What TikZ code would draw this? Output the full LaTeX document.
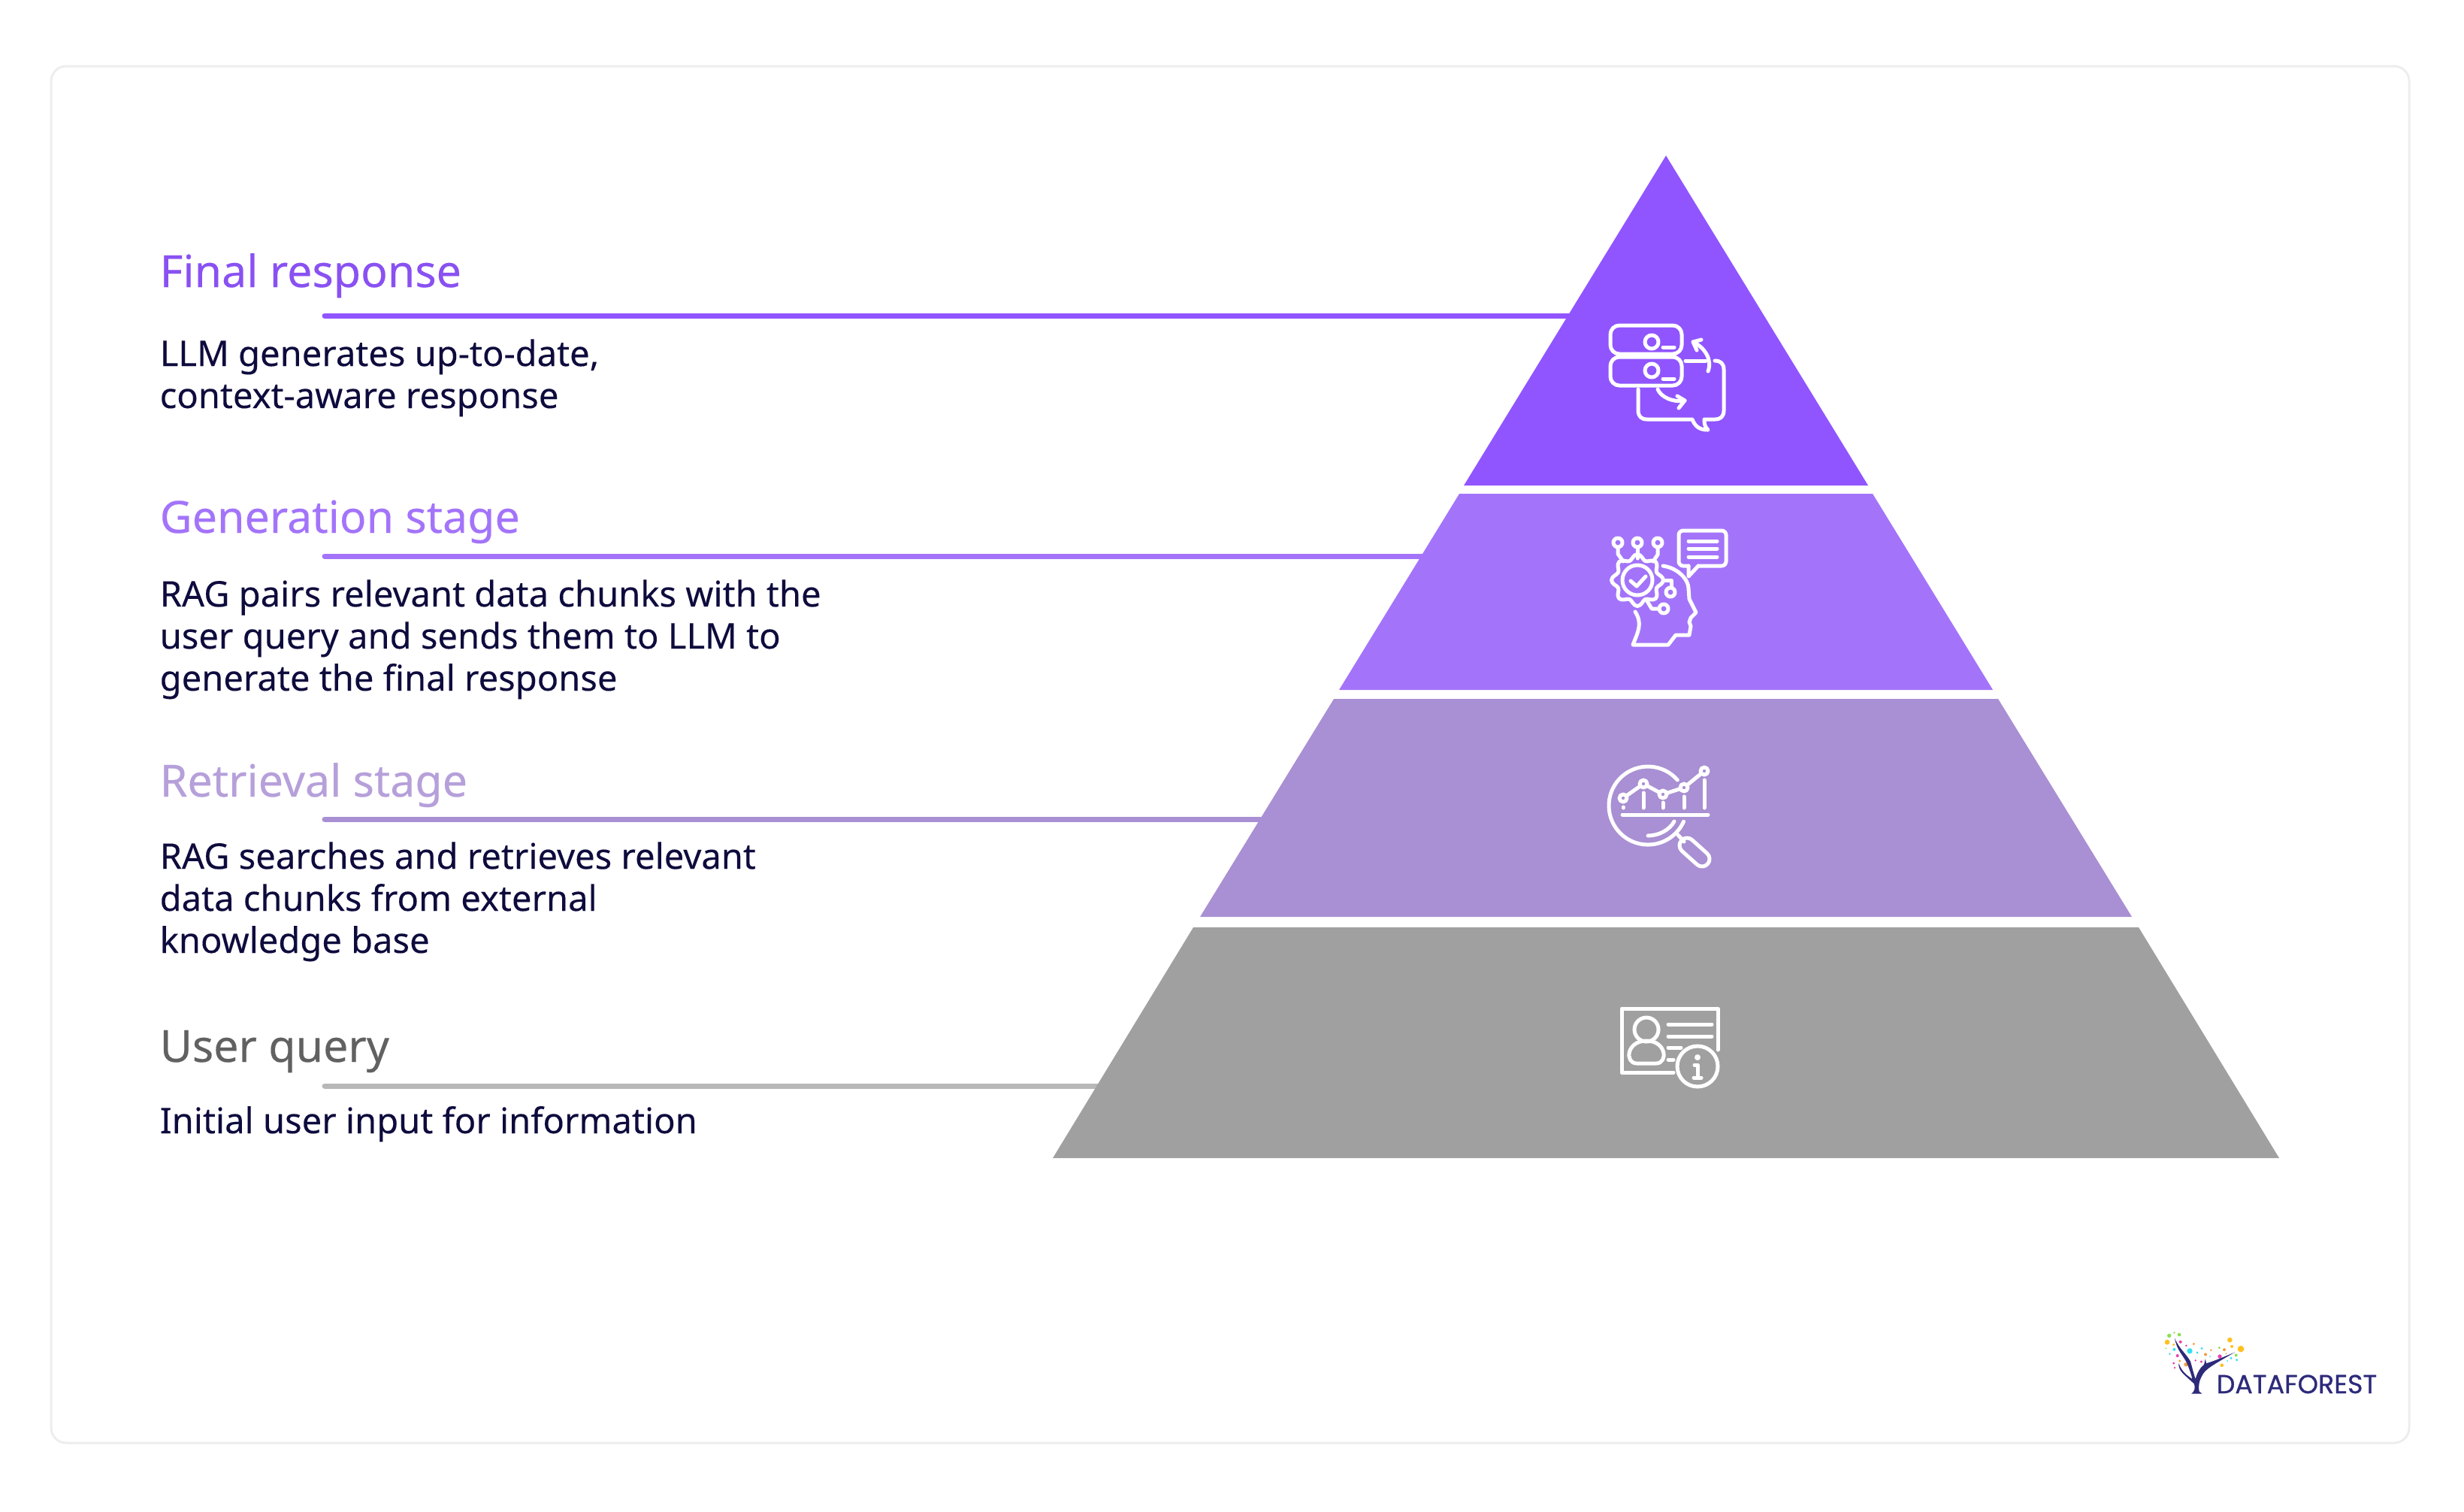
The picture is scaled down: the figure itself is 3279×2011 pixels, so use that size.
\documentclass[tikz,border=0pt]{standalone}
\usepackage{fontspec}
\setmainfont{Noto Sans}
\newfontfamily\logofont[FakeBold=0.7]{Poppins}
\usetikzlibrary{arrows.meta,positioning}
\definecolor{dfviolet}{HTML}{9055FF}
\definecolor{dflilac}{HTML}{A374FA}
\definecolor{dfmauve}{HTML}{A98FD3}
\definecolor{dfgrey}{HTML}{A0A0A0}
\definecolor{dfink}{HTML}{0E0B3D}
\definecolor{dfnavy}{HTML}{2D2A7A}
\definecolor{dfgreen}{HTML}{8BE04E}
\definecolor{dfamber}{HTML}{FFC020}
\definecolor{dforange}{HTML}{F59A3C}
\definecolor{dfpink}{HTML}{E83FB0}
\definecolor{dfcyan}{HTML}{35E0F0}
\tikzset{
  ttl/.style={anchor=base west,inner sep=0pt,font=\fontsize{16.8}{18}\selectfont\addfontfeature{FakeBold=0.25}},
  bdy/.style={anchor=base west,inner sep=0pt,align=left,text=dfink,
              font=\fontsize{13.4}{15.9}\selectfont\addfontfeature{FakeBold=0.15}},
  lead/.style={line width=0.07cm,line cap=round},
  ico/.style={draw=white,line width=0.05cm,line cap=round,line join=round},
  icof/.style={fill=white,draw=none},
  card/.style={draw=black!7,line width=0.03cm,rounded corners=0.2cm},
}
\begin{document}
\begin{tikzpicture}[x=0.01cm,y=-0.01cm]
\useasboundingbox (0,0) rectangle (3279,2011);
  \draw[card] (68,88) rectangle (3206,1920);
  % leader lines
  \coordinate (fstart) at (432,420);
  \coordinate (fend) at (2090,420);
  \coordinate (gstart) at (432,740);
  \coordinate (gend) at (1895,740);
  \coordinate (rstart) at (432,1090);
  \coordinate (rend) at (1680,1090);
  \coordinate (ustart) at (432,1445);
  \coordinate (uend) at (1462,1445);
  \draw[lead,dfviolet] (fstart) -- (fend);
  \draw[lead,dflilac] (gstart) -- (gend);
  \draw[lead,dfmauve] (rstart) -- (rend);
  \draw[lead,black!28] (ustart) -- (uend);
  % pyramid
  \fill[dfviolet] (2217,207) -- (2486,646) -- (1948,646) -- cycle;
  \fill[dflilac] (1942,657) -- (2492,657) -- (2652,918) -- (1782,918) -- cycle;
  \fill[dfmauve] (1775,930) -- (2659,930) -- (2837,1220) -- (1597,1220) -- cycle;
  \fill[dfgrey] (1588,1234) -- (2846,1234) -- (3033,1541) -- (1401,1541) -- cycle;
  % texts
  \node[ttl,text=dfviolet!95!black] (ftitle) at (212,382) {Final response};
  \node[bdy] (fbody) at (212,543) {LLM generates up-to-date,\\context-aware response};
  \node[ttl,text=dflilac] (gtitle) at (212,709) {Generation stage};
  \node[bdy] (gbody) at (212,919) {RAG pairs relevant data chunks with the\\user query and sends them to LLM to\\generate the final response};
  \node[ttl,text=dfmauve!85!white] (rtitle) at (212,1060) {Retrieval stage};
  \node[bdy] (rbody) at (212,1268) {RAG searches and retrieves relevant\\data chunks from external\\knowledge base};
  \node[ttl,text=black!62] (utitle) at (212,1413) {User query};
  \node[bdy] (ubody) at (212,1508) {Initial user input for information};
  % database icon
  \draw[ico,rounded corners=0.12cm] (2143,433) rectangle (2238,471);
  \draw[ico,rounded corners=0.12cm] (2143,475) rectangle (2238,513);
  \draw[ico] (2198,455) circle (9) (2198,493) circle (9);
  \draw[ico] (2213,462) -- (2228,462) (2213,504) -- (2228,504);
  \draw[ico] (2243,480) -- (2270,480);
  \draw[ico] (2180,518) -- (2180,546) .. controls (2180,554) and (2184,558) .. (2192,558)
    -- (2252,558) .. controls (2256,568) and (2262,572) .. (2273,572)
    .. controls (2268,568) and (2268,562) .. (2268,558) -- (2282,558)
    .. controls (2290,558) and (2294,554) .. (2294,546) -- (2294,492)
    .. controls (2294,484) and (2290,480) .. (2282,480);
  \draw[ico] (2273,494) .. controls (2279,478) and (2268,462) .. (2253,455);
  \draw[ico] (2264,452) -- (2253,455) -- (2258,466);
  \draw[ico] (2206,518) .. controls (2210,528) and (2226,536) .. (2242,533);
  \draw[ico] (2232,527) -- (2242,533) -- (2234,543);
  % head icon
  \draw[ico] plot[smooth cycle,samples=64,domain=0:354.375]
    ({2179+(31+3.5*cos(8*\x))*cos(\x)},{772+(31+3.5*cos(8*\x))*sin(\x)});
  \draw[ico] (2179,772) circle (20);
  \draw[ico] (2170,773) -- (2178,780) -- (2190,767);
  \foreach \px in {2153,2179,2206}
    \draw[ico] (\px,722) circle (6);
  \draw[ico] (2153,728) -- (2153,737) -- (2160,747);
  \draw[ico] (2179,728) -- (2179,743);
  \draw[ico] (2206,728) -- (2206,738) -- (2200,747);
  \draw[ico,rounded corners=0.06cm] (2247,753) -- (2234,753) -- (2234,706) -- (2297,706) -- (2297,753) -- (2260,753);
  \draw[ico] (2260,753) -- (2247,767) -- (2247,753);
  \draw[ico] (2247,720) -- (2285,720) (2247,730) -- (2285,730) (2247,741) -- (2285,741);
  \draw[ico] (2213,753) .. controls (2234,756) and (2247,772) .. (2247,783) -- (2248,797)
    -- (2257,815) -- (2250,822) -- (2248,828) -- (2250,833) -- (2248,845) -- (2230,845)
    -- (2220,858) -- (2173,858) .. controls (2180,840) and (2186,830) .. (2176,814);
  \draw[ico] (2215,772) -- (2224,772) -- (2224,782);
  \draw[ico] (2223,788) circle (6);
  \draw[ico] (2192,800) -- (2198,810) -- (2208,810);
  \draw[ico] (2214,810) circle (6);
  % chart icon
  \draw[ico] (2193,1072) ++(-41:52) arc[start angle=-41,end angle=-336,radius=52];
  \draw[ico] (2193,1112) .. controls (2208,1112) and (2222,1104) .. (2228,1093);
  \draw[ico] (2159,1084) -- (2273,1084);
  \draw[ico] (2160,1062) -- (2187,1043) -- (2213,1057) -- (2241,1048) -- (2268,1026);
  \foreach \px/\py in {2160/1062,2187/1043,2213/1057,2241/1048,2268/1026}
    \draw[ico,fill=dfmauve] (\px,\py) circle (5);
  \draw[ico] (2160,1074) -- (2160,1075) (2187,1055) -- (2187,1075) (2213,1068) -- (2213,1075)
    (2241,1060) -- (2241,1075) (2268,1038) -- (2268,1075);
  \draw[ico] (2233,1111) -- (2241,1120);
  \draw[ico] (2245,1125) ++(132:10) arc[start angle=132,end angle=312,radius=10]
    -- ++(20,18) arc[start angle=-48,end angle=132,radius=10] -- cycle;
  % id card icon
  \draw[ico] (2227,1427) -- (2158,1427) -- (2158,1342) -- (2286,1342) -- (2286,1397);
  \draw[ico] (2191,1370) circle (16);
  \draw[ico] (2178,1415) -- (2204,1415) .. controls (2220,1415) and (2218,1385) .. (2191,1385)
    .. controls (2164,1385) and (2162,1415) .. (2178,1415);
  \draw[ico] (2220,1363) -- (2278,1363) (2220,1379) -- (2278,1379)
    (2220,1394) -- (2237,1394) (2220,1410) -- (2227,1410);
  \draw[ico] (2259,1419) circle (27);
  \fill[icof] (2259,1407) circle (4);
  \draw[ico] (2255,1417) -- (2259,1417) -- (2259,1434);
  \draw[ico] (2254,1434) -- (2264,1434);
  % logo
  \node[anchor=base west,inner sep=0pt,text=dfnavy,font=\logofont\fontsize{9.9}{12}\selectfont]
    (logo) at (2949,1854) {DATAFOREST};
  \begin{scope}[shift={(2840,1740)},scale=1/3]
    \foreach \px/\py/\pr in {140/112/8,160/100/4,180/108/7,127/163/3,340/160/5,407/190/6}
      \fill[dfgreen] (\px,\py) circle (\pr);
    \foreach \px/\py/\pr in {132/138/10,158/148/5,382/129/10,390/155/6,426/165/13,350/230/7}
      \fill[dfamber] (\px,\py) circle (\pr);
    \foreach \px/\py/\pr in {238/145/5,182/213/5,207/227/8,285/187/6,307/170/4,360/168/6,367/183/3}
      \fill[dforange] (\px,\py) circle (\pr);
    \foreach \px/\py/\pr in {185/137/6,208/152/4,173/192/6,158/222/5,162/240/4,245/211/4,268/216/5,342/195/8}
      \fill[dfpink] (\px,\py) circle (\pr);
    \foreach \px/\py/\pr in {222/173/11,252/180/5,270/163/5,160/167/6,142/185/4,303/195/3,387/202/5,410/209/5,372/213/3}
      \fill[dfcyan] (\px,\py) circle (\pr);
    \fill[dfnavy] (228,344) -- (272,344) -- (260,335) .. controls (255,310) and (260,290) .. (275,265)
      .. controls (290,240) and (340,215) .. (402,178) .. controls (340,205) and (300,220) .. (288,222)
      -- (284,205) -- (279,228) .. controls (262,240) and (250,265) .. (245,285)
      .. controls (238,265) and (232,240) .. (225,215) .. controls (205,180) and (180,165) .. (162,122)
      .. controls (170,170) and (195,190) .. (210,220) .. controls (220,245) and (228,265) .. (232,285)
      .. controls (210,270) and (190,255) .. (178,222) .. controls (175,255) and (205,270) .. (240,305)
      .. controls (244,320) and (242,335) .. (228,344) -- cycle;
  \end{scope}
\end{tikzpicture}
\end{document}
